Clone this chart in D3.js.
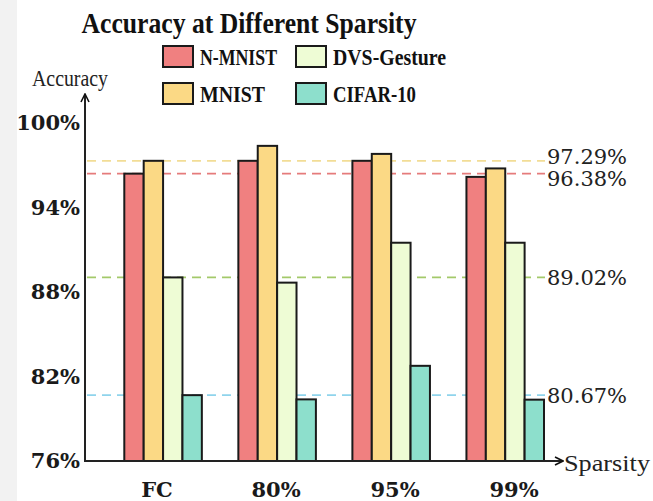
<!DOCTYPE html>
<html>
<head>
<meta charset="utf-8">
<script src="https://cdn.jsdelivr.net/npm/d3@7"></script>
<style>
  body { margin: 0; background: #fff; }
  svg { display: block; }
</style>
</head>
<body>
<svg id="chart" width="653" height="501"></svg>
<script>
let categories = ["FC", "80%", "95%", "99%"];
let seriesNames = ["N-MNIST", "MNIST", "DVS-Gesture", "CIFAR-10"];
let nmnist = [96.38, 97.29, 97.29, 96.15];
let mnist = [97.29, 98.35, 97.78, 96.75];
let dvs = [89.02, 88.65, 91.48, 91.48];
let cifar = [80.67, 80.37, 82.75, 80.35];
let yTicks = [76, 82, 88, 94, 100];
let refValues = [97.29, 96.38, 89.02, 80.67];
let refLabels = ["97.29%", "96.38%", "89.02%", "80.67%"];

const COLORS = ["#f08080", "#fbd985", "#eefcd5", "#8ddfcc"];
const REF_COLORS = ["#f2dd96", "#e57b7b", "#a3c96a", "#8fd4ec"];

let svg = d3.select("#chart");

// grey strip at the left like the screenshot
svg.append("rect").attr("x", 0).attr("y", 0).attr("width", 17).attr("height", 501).attr("fill", "#f2f2f2");

let left = 85, bottom = 461;
let y = d3.scaleLinear().domain([76, 100]).range([bottom, 122.6]);
let x0 = d3.scaleBand().domain(categories).range([124.3, 544]).paddingInner(0.32);
let x1 = d3.scaleBand().domain(seriesNames).range([0, x0.bandwidth()]);
let labelX = d3.scalePoint().domain(categories).range([157, 514]);

let rows = categories.map((c, i) => ({
    cat: c,
    vals: [nmnist[i], mnist[i], dvs[i], cifar[i]]
}));

// dashed reference lines (behind the bars)
svg.selectAll(".ref")
    .data(refValues)
    .enter().append("line")
    .attr("x1", left + 2).attr("x2", 545)
    .attr("y1", d => y(d)).attr("y2", d => y(d))
    .attr("stroke", (d, i) => REF_COLORS[i])
    .attr("stroke-width", 1.8)
    .attr("stroke-dasharray", "9,6");

svg.selectAll(".refLabel")
    .data(refValues)
    .enter().append("text")
    .attr("x", 547)
    .attr("y", (d, i) => y(d) + (i == 0 ? -4 : i == 1 ? 5 : 0))
    .attr("dy", "0.35em")
    .attr("font-family", "DejaVu Serif")
    .attr("font-size", 21)
    .attr("fill", "#222")
    .text((d, i) => refLabels[i]);

// bars
let groups = svg.selectAll(".grp")
    .data(rows)
    .enter().append("g")
    .attr("transform", d => "translate(" + x0(d.cat) + ",0)");

groups.selectAll("rect")
    .data(d => d.vals.map((v, j) => ({ name: seriesNames[j], v: v, j: j })))
    .enter().append("rect")
    .attr("x", d => x1(d.name))
    .attr("width", x1.bandwidth())
    .attr("y", d => y(d.v))
    .attr("height", d => bottom - y(d.v))
    .attr("fill", d => COLORS[d.j])
    .attr("stroke", "#1a1a1a")
    .attr("stroke-width", 2);

// axes with arrows
svg.append("defs").append("marker")
    .attr("id", "arrow")
    .attr("viewBox", "0 0 10 10")
    .attr("refX", 9).attr("refY", 5)
    .attr("markerWidth", 10).attr("markerHeight", 10)
    .attr("markerUnits", "userSpaceOnUse")
    .attr("orient", "auto")
    .append("path")
    .attr("d", "M1,1 L9,5 L1,9")
    .attr("fill", "none")
    .attr("stroke", "#111")
    .attr("stroke-width", 1.6);

svg.append("line")
    .attr("x1", left).attr("y1", bottom).attr("x2", left).attr("y2", 94)
    .attr("stroke", "#222").attr("stroke-width", 2)
    .attr("marker-end", "url(#arrow)");
svg.append("line")
    .attr("x1", left - 1).attr("y1", bottom).attr("x2", 563).attr("y2", bottom)
    .attr("stroke", "#222").attr("stroke-width", 2)
    .attr("marker-end", "url(#arrow)");

svg.selectAll(".ytick")
    .data(yTicks)
    .enter().append("text")
    .attr("x", 80)
    .attr("y", d => y(d))
    .attr("dy", "0.35em")
    .attr("text-anchor", "end")
    .attr("font-family", "DejaVu Serif")
    .attr("font-weight", "bold")
    .attr("font-size", 21)
    .attr("fill", "#1a1a1a")
    .text(d => d + "%");

svg.selectAll(".xlab")
    .data(categories)
    .enter().append("text")
    .attr("x", d => labelX(d))
    .attr("y", 490)
    .attr("dy", "0.35em")
    .attr("text-anchor", "middle")
    .attr("font-family", "DejaVu Serif")
    .attr("font-weight", "bold")
    .attr("font-size", 21)
    .attr("fill", "#1a1a1a")
    .text(d => d);

svg.append("text")
    .attr("x", 32).attr("y", 78).attr("dy", "0.35em")
    .attr("font-family", "Liberation Serif").attr("font-size", 23)
    .attr("textLength", 76).attr("lengthAdjust", "spacingAndGlyphs")
    .attr("fill", "#222")
    .text("Accuracy");
svg.append("text")
    .attr("x", 564).attr("y", 463).attr("dy", "0.35em")
    .attr("font-family", "Liberation Serif").attr("font-size", 24)
    .attr("textLength", 86).attr("lengthAdjust", "spacingAndGlyphs")
    .attr("fill", "#222")
    .text("Sparsity");

// title
svg.append("text")
    .attr("x", 249).attr("y", 33)
    .attr("text-anchor", "middle")
    .attr("font-family", "Liberation Serif").attr("font-weight", "bold")
    .attr("font-size", 30)
    .attr("textLength", 335).attr("lengthAdjust", "spacingAndGlyphs")
    .attr("fill", "#111")
    .text("Accuracy at Different Sparsity");

// legend (2 x 2)
let legendPos = [[163, 46], [163, 83], [296, 46], [296, 83]];
let legendW = [77, 65, 113, 83];
let leg = svg.selectAll(".leg")
    .data(seriesNames)
    .enter().append("g")
    .attr("transform", (d, i) => "translate(" + legendPos[i][0] + "," + legendPos[i][1] + ")");
leg.append("rect")
    .attr("width", 30).attr("height", 21)
    .attr("fill", (d, i) => COLORS[i])
    .attr("stroke", "#1a1a1a").attr("stroke-width", 2);
leg.append("text")
    .attr("x", 37).attr("y", 11).attr("dy", "0.35em")
    .attr("font-family", "Liberation Serif").attr("font-weight", "bold")
    .attr("font-size", 24)
    .attr("textLength", (d, i) => legendW[i]).attr("lengthAdjust", "spacingAndGlyphs")
    .attr("fill", "#111")
    .text(d => d);
</script>
</body>
</html>
